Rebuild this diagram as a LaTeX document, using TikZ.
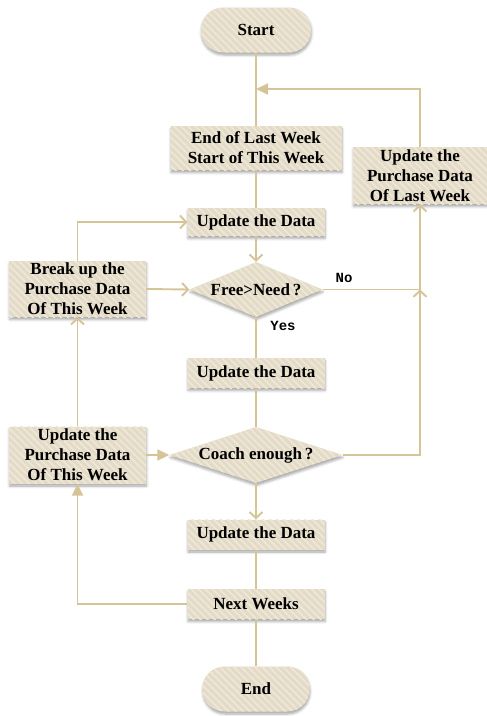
\documentclass[tikz,border=0pt]{standalone}
\usepackage{fontspec}
\setmainfont{Liberation Serif}
\newfontfamily\labelfont{Liberation Mono}
\usetikzlibrary{arrows.meta,shapes.geometric,patterns.meta,shadows.blur}

\definecolor{boxfill}{RGB}{228,219,199}
\definecolor{boxstripe}{RGB}{238,232,218}
\definecolor{wire}{RGB}{212,196,152}

\tikzset{
  base/.style={inner sep=0pt, align=center, text=black,
    font=\bfseries\fontsize{17}{20}\selectfont,
    blur shadow={shadow xshift=0.5pt, shadow yshift=-2.5pt,
      shadow blur radius=2.5pt, shadow opacity=35},
    preaction={fill=boxfill},
    pattern={Lines[angle=-45,distance=5pt,line width=1.6pt]},
    pattern color=boxstripe},
  stepbox/.style={base, rectangle, minimum width=#1, minimum height=30pt},
  stepbox/.default=137pt,
  terminal/.style={base, rectangle, rounded corners=22pt,
    minimum width=110pt, minimum height=45pt},
  decision/.style={base, diamond, aspect=2},
  wireline/.style={draw=wire, line width=1.9pt},
  chev/.style={wireline, -{Straight Barb[length=6pt,width=13pt]}},
  tri/.style={wireline, -{Triangle[length=12pt,width=11pt]}},
  flag/.style={font=\labelfont\bfseries\fontsize{14}{14}\selectfont}
}

\begin{document}
\begin{tikzpicture}[x=1pt,y=-1pt]
\useasboundingbox (0,0) rectangle (487,716);

% main column
\node[terminal] (start) at (256,30) {Start};
\node[stepbox=171pt, minimum height=44pt] (week) at (256,148)
  {End of Last Week\\Start of This Week};
\node[stepbox, minimum height=28pt] (upd1) at (256,222) {Update the Data};
\node[decision, minimum width=133pt, minimum height=55pt] (need) at (256,289.5)
  {\makebox[0pt]{Free>Need\,?}};
\node[stepbox] (upd2) at (256,373) {Update the Data};
\node[decision, minimum width=173pt, minimum height=56pt] (coach) at (256,455)
  {\makebox[0pt]{Coach enough\,?}};
\node[stepbox] (upd3) at (256,534.5) {Update the Data};
\node[stepbox] (next) at (256,604) {Next Weeks};
\node[terminal, minimum width=107pt] (end) at (256,689) {End};

% side boxes
\node[stepbox, minimum height=56pt] (breakup) at (77.5,289)
  {Break up the\\Purchase Data\\Of This Week};
\node[stepbox, minimum height=57pt] (thisweek) at (77.5,455)
  {Update the\\Purchase Data\\Of This Week};
\node[stepbox=134pt, minimum height=57pt] (lastweek) at (420,175.5)
  {Update the\\Purchase Data\\Of Last Week};

% junctions
\coordinate (j1) at (256,89);
\coordinate (j2) at (420,289.5);

% connectors
\draw[wireline] (start) -- (week);
\draw[tri] (lastweek.north) |- (j1);
\draw[wireline] (week) -- (upd1);
\draw[chev] (upd1) -- (need);
\draw[wireline] (need.east) -- node[flag, above=3pt, pos=0.22] (no) {No} (j2);
\draw[chev] (coach.east) -| (j2);
\draw[chev] (j2) -- (lastweek.south);
\draw[wireline] (need.south) -- (upd2);
\node[flag] (yes) at (283,326) {Yes};
\draw[wireline] (upd2) -- (coach.north);
\draw[chev] (coach.south) -- (upd3);
\draw[wireline] (upd3) -- (next);
\draw[wireline] (next) -- (end);
\draw[tri] (next.west) -| (thisweek.south);
\draw[tri] (thisweek.east) -- (coach.west);
\draw[chev] (thisweek.north) -- (breakup.south);
\draw[chev] (breakup.east) -- (need.west);
\draw[chev] (breakup.north) |- (upd1.west);
\end{tikzpicture}
\end{document}
